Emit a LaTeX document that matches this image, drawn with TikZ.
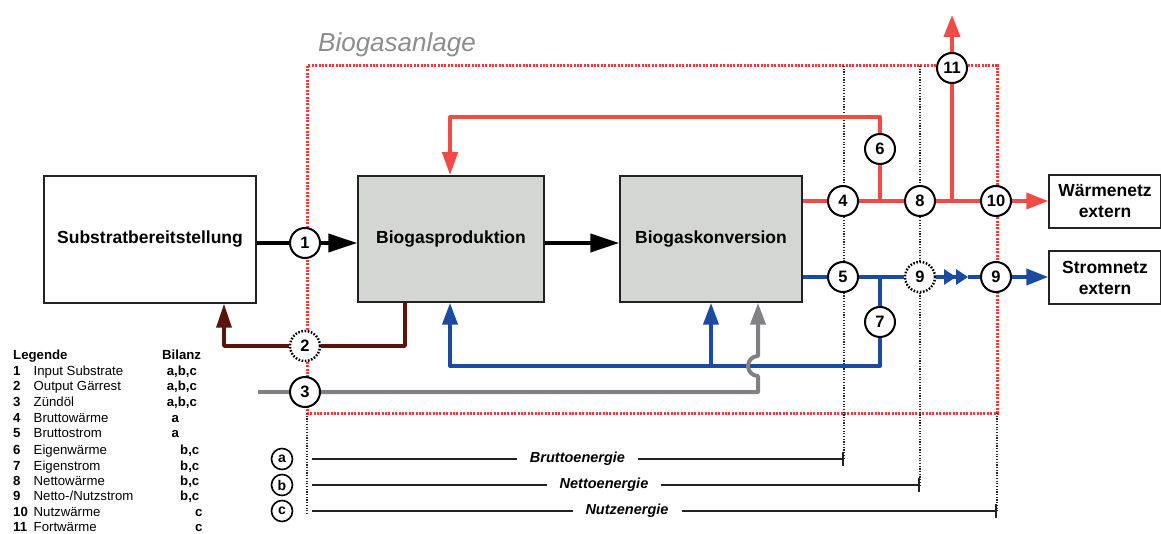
\documentclass[tikz,border=0pt]{standalone}
\usepackage{fontspec}
\setmainfont{Liberation Sans}
\usetikzlibrary{arrows.meta}
\definecolor{heat}{HTML}{F24B47}
\definecolor{sysred}{HTML}{F03A3A}
\definecolor{power}{HTML}{1A4BA0}
\definecolor{oil}{HTML}{7F8184}
\definecolor{digest}{HTML}{5C140A}
\definecolor{boxgray}{HTML}{D4D6D3}
\definecolor{outline}{HTML}{222222}
\definecolor{titlegray}{HTML}{8C8C8C}
\begin{document}
\begin{tikzpicture}[x=1pt,y=-1pt,
  box/.style={draw=outline, line width=1.5pt, inner sep=0pt, font=\fontsize{17.5}{21}\selectfont\bfseries},
  num/.style={circle, draw=black, fill=white, line width=2pt, minimum size=30pt, inner sep=0pt, font=\fontsize{16.5}{16.5}\selectfont\bfseries},
  numdot/.style={num, line width=2.4pt, dash pattern=on 1.6pt off 1.6pt},
  letter/.style={circle, draw=black, fill=white, line width=1.6pt, minimum size=21pt, inner sep=0pt, font=\fontsize{14}{14}\selectfont\bfseries},
  flow/.style={line width=4pt, line join=round},
  blk/.style={flow, draw=black},
  ht/.style={flow, draw=heat},
  pw/.style={flow, draw=power},
  gl/.style={flow, draw=oil},
  br/.style={line width=3.5pt, line join=round, draw=digest},
  bigtip/.style={-{Triangle[length=29pt,width=18pt]}},
  tip/.style={-{Triangle[length=22pt,width=16pt]}},
  sysbox/.style={draw=sysred, line width=3pt, dash pattern=on 2pt off 1.4pt},
  guide/.style={draw=black!85, line width=1.3pt, dash pattern=on 1.2pt off 1.5pt},
  meas/.style={draw=outline, line width=1.5pt, -{Bar[width=14pt,line width=1.8pt]}},
  measlbl/.style={fill=white, inner xsep=13pt, inner ysep=2pt, font=\fontsize{14.5}{15}\selectfont\bfseries\itshape},
  lg/.style={anchor=base west, inner sep=0pt, font=\fontsize{13.2}{15}\selectfont},
  lgb/.style={anchor=base west, inner sep=0pt, font=\fontsize{13.2}{15}\selectfont\bfseries}
]
\useasboundingbox (0,0) rectangle (1161,534);

% system boundary
\draw[sysbox] (307,66) rectangle (997,413);
\node[anchor=base west, inner sep=0pt, text=titlegray, font=\fontsize{26}{26}\selectfont\itshape] (title) at (318,52) {Biogasanlage};

% guide coordinates
\coordinate (ta) at (844,66);
\coordinate (tb) at (920,66);
\coordinate (tl) at (307,413);
\coordinate (tc) at (997,413);
\coordinate (ma0) at (312,459);
\coordinate (ma1) at (844,459);
\coordinate (mb0) at (312,485);
\coordinate (mb1) at (920,485);
\coordinate (mc0) at (312,511);
\coordinate (mc1) at (997,511);
\coordinate (ml) at (307,514);

\draw[guide] (ta) -- (ma1);
\draw[guide] (tb) -- (mb1);
\draw[guide] (tl) -- (ml);
\draw[guide] (tc) -- (mc1);

% boxes
\node[box, minimum width=212pt, minimum height=127pt] (sub) at (150,239.5) {Substratbereitstellung};
\node[box, fill=boxgray, minimum width=186pt, minimum height=126pt] (prod) at (451,239) {Biogasproduktion};
\node[box, fill=boxgray, minimum width=182pt, minimum height=126pt] (konv) at (711,239) {Biogaskonversion};
\node[box, fill=white, minimum width=112pt, minimum height=53pt, align=center] (waerme) at (1105,201.5) {Wärmenetz\\extern};
\node[box, fill=white, minimum width=112pt, minimum height=53pt, align=center] (strom) at (1105,277.5) {Stromnetz\\extern};

% numbered circles
\node[num] (c1) at (305,243) {1};
\node[numdot] (c2) at (305,346) {2};
\node[num] (c3) at (305,392) {3};
\node[num] (c4) at (843,201) {4};
\node[num] (c5) at (843,277) {5};
\node[num] (c6) at (880,149) {6};
\node[num] (c7) at (880,322) {7};
\node[num] (c8) at (920,201) {8};
\node[numdot] (c9d) at (920,277) {9};
\node[num] (c9) at (996,277) {9};
\node[num] (c10) at (996,201) {10};
\node[num] (c11) at (952,68) {11};

% black main flow
\draw[blk] (sub.east |- c1) -- (c1);
\draw[blk, bigtip] (c1) -- (c1 -| prod.west);
\draw[blk, bigtip] (prod.east |- c1) -- (konv.west |- c1);

% heat
\coordinate (r6) at (880,117);
\coordinate (rL) at (450,117);
\coordinate (r11) at (952,15);
\draw[ht] (konv.east |- c4) -- (c4);
\draw[ht] (c4) -- (c8);
\draw[ht] (c8) -- (c10);
\draw[ht, tip] (c10) -- (waerme.west |- c10);
\draw[ht] (c6 |- c4) -- (c6);
\draw[ht, -{Triangle[length=23pt,width=15pt]}] (c6) -- (r6) -- (rL) -- (rL |- prod.north);
\draw[ht] (c11 |- c8) -- (c11);
\draw[ht, tip] (c11) -- (r11);

% power
\coordinate (dd) at (968,277);
\coordinate (b7) at (880,366);
\coordinate (bL) at (450,366);
\coordinate (bM) at (711,366);
\draw[pw] (konv.east |- c5) -- (c5);
\draw[pw] (c5) -- (c9d);
\draw[pw, -{Triangle[length=12pt,width=15pt] Triangle[length=12pt,width=15pt]}] (c9d) -- (dd);
\draw[pw] (dd) -- (c9);
\draw[pw, tip] (c9) -- (strom.west |- c9);
\draw[pw] (c7 |- c5) -- (c7);
\draw[pw, -{Triangle[length=22pt,width=15pt]}] (c7) -- (b7) -- (bL) -- (bL |- prod.south);
\draw[pw, -{Triangle[length=22pt,width=15pt]}] (bM) -- (bM |- konv.south);

% pilot oil (gray)
\coordinate (g0) at (258,392);
\coordinate (gx) at (758,392);
\draw[gl] (g0) -- (c3);
\draw[gl, -{Triangle[length=22pt,width=15pt]}] (c3) -- (gx) -- (758,376) arc[start angle=90, end angle=270, radius=10] -- (gx |- konv.south);

% digestate (brown)
\coordinate (bx) at (405,346);
\coordinate (bl) at (224,346);
\draw[br] (prod.south -| bx) -- (bx) -- (c2);
\draw[br, -{Triangle[length=24pt,width=15pt]}] (c2) -- (bl) -- (bl |- sub.south);

% balance lines
\node[letter] (la) at (282,459) {a};
\node[letter] (lb) at (282,485) {b};
\node[letter] (lc) at (282,511) {c};
\draw[meas] (ma0) -- (ma1);
\draw[meas] (mb0) -- (mb1);
\draw[meas] (mc0) -- (mc1);
\node[measlbl] (bra) at (577.5,459) {Bruttoenergie};
\node[measlbl] (net) at (604,485) {Nettoenergie};
\node[measlbl] (nut) at (627,511) {Nutzenergie};

% legend
\node[lgb] (lh) at (13,359.5) {Legende};
\node[lgb] (lbh) at (162,359.5) {Bilanz};
\node[lgb] (n1) at (13,375.3) {1};  \node[lg] (t1) at (33.5,375.3) {Input Substrate};  \node[lgb] (v1) at (166.7,375.3) {a,b,c};
\node[lgb] (n2) at (13,390.2) {2};  \node[lg] (t2) at (33.5,390.2) {Output Gärrest};  \node[lgb] (v2) at (166.7,390.2) {a,b,c};
\node[lgb] (n3) at (13,406) {3};  \node[lg] (t3) at (33.5,406) {Zündöl};  \node[lgb] (v3) at (166.7,406) {a,b,c};
\node[lgb] (n4) at (13,422.3) {4};  \node[lg] (t4) at (33.5,422.3) {Bruttowärme};  \node[lgb] (v4) at (171.5,422.3) {a};
\node[lgb] (n5) at (13,437.5) {5};  \node[lg] (t5) at (33.5,437.5) {Bruttostrom};  \node[lgb] (v5) at (171.5,437.5) {a};
\node[lgb] (n6) at (13,454) {6};  \node[lg] (t6) at (33.5,454) {Eigenwärme};  \node[lgb] (v6) at (180,454) {b,c};
\node[lgb] (n7) at (13,470) {7};  \node[lg] (t7) at (33.5,470) {Eigenstrom};  \node[lgb] (v7) at (180,470) {b,c};
\node[lgb] (n8) at (13,485) {8};  \node[lg] (t8) at (33.5,485) {Nettowärme};  \node[lgb] (v8) at (180,485) {b,c};
\node[lgb] (n9) at (13,500.5) {9};  \node[lg] (t9) at (33.5,500.5) {Netto-/Nutzstrom};  \node[lgb] (v9) at (180,500.5) {b,c};
\node[lgb] (n10) at (13,516.5) {10}; \node[lg] (t10) at (33.5,516.5) {Nutzwärme};  \node[lgb] (v10) at (195,516.5) {c};
\node[lgb] (n11) at (13,531.7) {11}; \node[lg] (t11) at (33.5,531.7) {Fortwärme};  \node[lgb] (v11) at (195,531.7) {c};
\end{tikzpicture}
\end{document}
